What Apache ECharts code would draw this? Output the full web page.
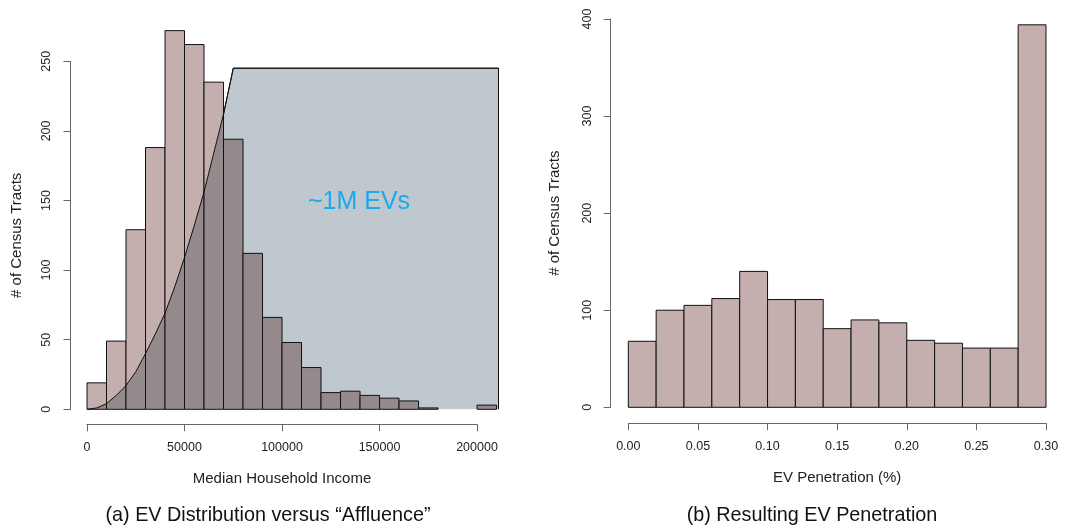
<!DOCTYPE html>
<html>
<head>
<meta charset="utf-8">
<title>EV distribution vs affluence</title>
<script src="https://cdn.jsdelivr.net/npm/echarts@6/dist/echarts.min.js"></script>
<style>
  html, body { margin: 0; padding: 0; background: #fff; }
  #main { width: 1075px; height: 531px; }
</style>
</head>
<body>
<div id="main"></div>
<script>
// (a) histogram of median household income, bins of 10000
var incomeEdges = [0, 10000, 20000, 30000, 40000, 50000, 60000, 70000, 80000, 90000, 100000,
    110000, 120000, 130000, 140000, 150000, 160000, 170000, 180000, 190000, 200000, 210000];
var incomeCounts = [19, 49, 129, 188, 272, 262, 235, 194, 112, 66, 48, 30, 12, 13, 10, 8, 6, 1, 0, 0, 3];

// shaded EV curve over the income histogram (closed at the right edge)
var curveIncome = [0, 5000, 10000, 15000, 20000, 25000, 30000, 35000, 40000, 45000, 50000,
    55000, 60000, 65000, 70000, 75000, 211000, 211000];
var curveCount = [0, 1, 4, 10, 17, 27, 40, 54, 69, 88, 109, 132, 156, 184, 212, 245, 245, 0];

// (b) histogram of EV penetration, bins of 0.02
var penEdges = [0, 0.02, 0.04, 0.06, 0.08, 0.10, 0.12, 0.14, 0.16, 0.18, 0.20, 0.22, 0.24, 0.26, 0.28, 0.30];
var penCounts = [68, 100, 105, 112, 140, 111, 111, 81, 90, 87, 69, 66, 61, 61, 394];

var FONT = "'Liberation Sans', Arial, sans-serif";
var AXIS_COLOR = '#666';
var BAR_COLOR = '#c4aeae';
var AREA_COLOR = '#bfc8ce';
var BAR_UNDER_AREA = '#948a8c';

function binData(edges, counts) {
    var out = [];
    for (var i = 0; i < counts.length; i++) {
        out.push([edges[i], edges[i + 1], counts[i]]);
    }
    return out;
}

var curvePoints = [];
for (var i = 0; i < curveIncome.length; i++) {
    curvePoints.push([curveIncome[i], curveCount[i]]);
}

function binRect(api) {
    var top = api.coord([api.value(0), api.value(2)]);
    var bottom = api.coord([api.value(1), 0]);
    return { x: top[0], y: top[1], width: bottom[0] - top[0], height: bottom[1] - top[1] };
}

// plain bins
function renderBin(params, api) {
    if (!api.value(2)) return null;
    return {
        type: 'rect',
        shape: binRect(api),
        style: { fill: BAR_COLOR, stroke: '#111', lineWidth: 1 }
    };
}

// bins seen through the shaded EV area: darker where they sit under the curve
function renderShadedBin(params, api) {
    if (!api.value(2)) return null;
    var r = binRect(api);
    var pts = curvePoints.map(function (p) { return api.coord(p); });
    return {
        type: 'group',
        children: [
            { type: 'rect', shape: r, style: { fill: BAR_COLOR } },
            {
                type: 'polygon',
                shape: { points: pts },
                style: { fill: BAR_UNDER_AREA },
                clipPath: { type: 'rect', shape: r }
            },
            { type: 'rect', shape: r, style: { fill: 'none', stroke: '#111', lineWidth: 1 } }
        ]
    };
}

function axisStyle(extra) {
    var base = {
        type: 'value',
        splitLine: { show: false },
        axisLine: { show: true, onZero: false, lineStyle: { color: AXIS_COLOR, width: 1 } },
        axisTick: { show: true, length: 7, lineStyle: { color: AXIS_COLOR } },
        nameLocation: 'middle',
        nameTextStyle: { fontFamily: FONT, fontSize: 15, color: '#222' }
    };
    for (var k in extra) base[k] = extra[k];
    return base;
}

var chart = echarts.init(document.getElementById('main'));
var option = {
    backgroundColor: '#ffffff',
    animation: false,
    grid: [
        { left: 87, top: 19.5, width: 411.5, height: 389.8, outerBoundsMode: 'none' },
        { left: 87, top: 61.3, width: 390, height: 348, outerBoundsMode: 'none' },
        { left: 628.3, top: 19, width: 417.7, height: 388.3, outerBoundsMode: 'none' }
    ],
    xAxis: [
        { type: 'value', gridIndex: 0, min: 0, max: 211000, show: false },
        axisStyle({
            gridIndex: 1, min: 0, max: 200000, interval: 50000, offset: 15,
            name: 'Median Household Income', nameGap: 47,
            axisLabel: { margin: 17, fontFamily: FONT, fontSize: 12.5, color: '#222',
                formatter: function (v) { return String(v); } }
        }),
        axisStyle({
            gridIndex: 2, min: 0, max: 0.30, interval: 0.05, offset: 16,
            name: 'EV Penetration (%)', nameGap: 47,
            axisLabel: { margin: 17, fontFamily: FONT, fontSize: 12.5, color: '#222',
                formatter: function (v) { return v.toFixed(2); } }
        })
    ],
    yAxis: [
        { type: 'value', gridIndex: 0, min: 0, max: 280, show: false },
        axisStyle({
            gridIndex: 1, min: 0, max: 250, interval: 50, offset: 16.5,
            name: '# of Census Tracts', nameGap: 46,
            axisLabel: { rotate: 90, margin: 17, fontFamily: FONT, fontSize: 12.5, color: '#222' }
        }),
        axisStyle({
            gridIndex: 2, min: 0, max: 400, interval: 100, offset: 17.6,
            name: '# of Census Tracts', nameGap: 48,
            axisLabel: { rotate: 90, margin: 17, fontFamily: FONT, fontSize: 12.5, color: '#222' }
        })
    ],
    series: [
        {
            name: 'ev area',
            type: 'line',
            xAxisIndex: 0,
            yAxisIndex: 0,
            data: curvePoints,
            symbol: 'none',
            lineStyle: { color: '#111', width: 1 },
            areaStyle: { color: AREA_COLOR, opacity: 1, origin: 'start' },
            z: 1
        },
        {
            name: 'income',
            type: 'custom',
            xAxisIndex: 0,
            yAxisIndex: 0,
            renderItem: renderShadedBin,
            encode: { x: [0, 1], y: 2 },
            data: binData(incomeEdges, incomeCounts),
            z: 2
        },
        {
            name: 'ev curve',
            type: 'line',
            xAxisIndex: 0,
            yAxisIndex: 0,
            data: curvePoints,
            symbol: 'none',
            lineStyle: { color: '#111', width: 1 },
            z: 4
        },
        {
            name: 'penetration',
            type: 'custom',
            xAxisIndex: 2,
            yAxisIndex: 2,
            renderItem: renderBin,
            encode: { x: [0, 1], y: 2 },
            data: binData(penEdges, penCounts),
            z: 2
        }
    ],
    graphic: [
        { type: 'text', x: 359, y: 202, z: 10,
          style: { text: '~1M EVs', fill: '#1ba9ea', font: '25px ' + FONT, textAlign: 'center', textVerticalAlign: 'middle' } },
        { type: 'text', x: 268, y: 516,
          style: { text: '(a) EV Distribution versus \u201cAffluence\u201d', fill: '#111', font: '19.8px ' + FONT, textAlign: 'center', textVerticalAlign: 'middle' } },
        { type: 'text', x: 812, y: 516,
          style: { text: '(b) Resulting EV Penetration', fill: '#111', font: '19.8px ' + FONT, textAlign: 'center', textVerticalAlign: 'middle' } }
    ]
};
chart.setOption(option);
</script>
</body>
</html>
